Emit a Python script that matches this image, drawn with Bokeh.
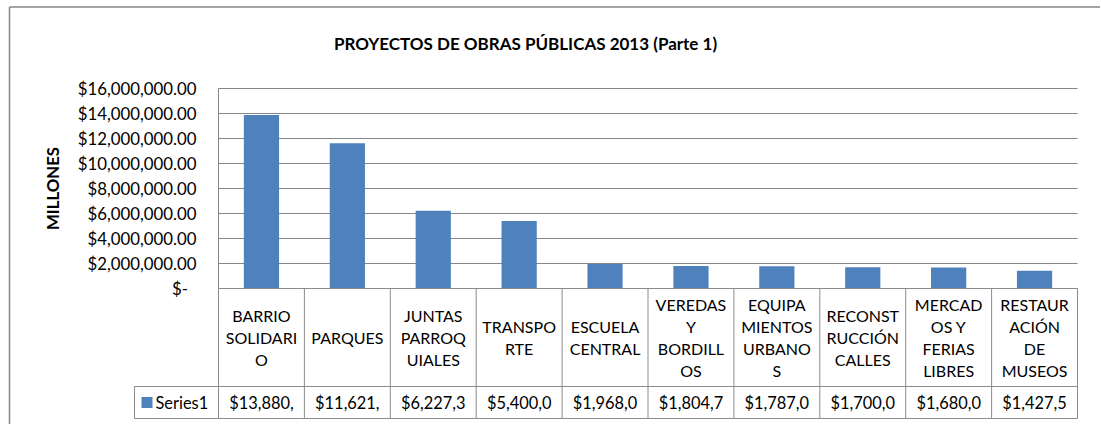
from bokeh.plotting import figure
from bokeh.models import Range1d, FixedTicker, NumeralTickFormatter, Label, LinearAxis, ColumnDataSource
from bokeh.core.properties import value
from bokeh.embed import file_html
from bokeh.resources import INLINE

# ---- data ----
categories = ["BARRIO\nSOLIDARI\nO", "PARQUES", "JUNTAS\nPARROQ\nUIALES", "TRANSPO\nRTE",
              "ESCUELA\nCENTRAL", "VEREDAS\nY\nBORDILL\nOS", "EQUIPA\nMIENTOS\nURBANO\nS",
              "RECONST\nRUCCIÓN\nCALLES", "MERCAD\nOS Y\nFERIAS\nLIBRES", "RESTAUR\nACIÓN\nDE\nMUSEOS"]
values = [13880000, 11621000, 6227300, 5400000, 1968000, 1804700, 1787000, 1700000, 1680000, 1427500]
y_ticks = [0, 2000000, 4000000, 6000000, 8000000, 10000000, 12000000, 14000000, 16000000]
series_name = "Series1"
title_text = "PROYECTOS DE OBRAS PÚBLICAS 2013 (Parte 1)"
y_label = "MILLONES"

FONT = "Lato"
GRID = "#868686"
TBL = "#8c8c8c"
BLUE = "#4F81BD"

n = len(categories)
xs = [i + 0.5 for i in range(n)]
# Excel clips the cell text to the column width
value_text = [("${:,.2f}".format(v))[:8] for v in values]

# ---- layout (pixels inside the canvas) ----
W, H = 1100, 424
PLOT_L = 218          # left edge of the plot area
CW = 85.9             # width of one category column
Y0 = 288              # pixel row of value 0
Y16 = 88              # pixel row of the top tick
ymax = y_ticks[-1]
upp = ymax / (Y0 - Y16)          # value units per pixel


def ty(py):
    """table coordinate (pixels from the bottom) of a pixel row"""
    return H - py


def tx(px):
    """x data coordinate of a pixel column"""
    return (px - PLOT_L) / CW


p = figure(width=W, height=H, output_backend="svg", toolbar_location=None,
           x_range=Range1d(tx(0), tx(W)),
           y_range=Range1d(-(H - Y0) * upp, Y0 * upp),
           x_axis_location=None, y_axis_location=None, title_location=None, min_border=0)
p.extra_y_ranges = {"tbl": Range1d(0, H)}
p.outline_line_color = None
p.grid.visible = False

# gridlines over the plot area
p.segment(x0=[0] * len(y_ticks), x1=[n] * len(y_ticks), y0=y_ticks, y1=y_ticks,
          line_color=GRID, line_width=1)

yax = LinearAxis(fixed_location=0, bounds=(0, ymax))
yax.ticker = FixedTicker(ticks=y_ticks)
yax.formatter = NumeralTickFormatter(format="$0,0.00")
yax.major_label_overrides = {0: "$-\u00a0\u00a0"}
yax.major_tick_out = 0
yax.major_tick_in = 0
yax.minor_tick_out = 0
yax.minor_tick_in = 0
yax.axis_line_color = GRID
yax.major_label_standoff = 22
yax.major_label_text_font = FONT
yax.major_label_text_font_size = "16.8px"
yax.major_label_text_color = "#000000"
yax.axis_label = y_label
yax.axis_label_text_font = FONT
yax.axis_label_text_font_style = "bold"
yax.axis_label_text_font_size = "16.8px"
yax.axis_label_text_color = "#000000"
yax.axis_label_standoff = 12
p.add_layout(yax, "left")

bars = p.vbar(x=xs, top=values, bottom=0, width=0.41, fill_color=BLUE, line_color=None)

# ---- data table ----
hdr_top = ty(Y0)
hdr_bot = ty(386)
row_bot = ty(418)
leg_l = tx(134)
p.segment(x0=[0, leg_l, leg_l], x1=[n, n, n], y0=[hdr_top, hdr_bot, row_bot],
          y1=[hdr_top, hdr_bot, row_bot], y_range_name="tbl", line_color=TBL, line_width=1)
p.segment(x0=list(range(0, n + 1)) + [leg_l], x1=list(range(0, n + 1)) + [leg_l],
          y0=[row_bot] * (n + 1) + [row_bot], y1=[hdr_top] * (n + 1) + [hdr_bot],
          y_range_name="tbl", line_color=TBL, line_width=1)
src = ColumnDataSource(dict(x=xs, cat=categories, val=value_text,
                            yc=[(hdr_top + hdr_bot) / 2] * n, yv=[(hdr_bot + row_bot) / 2] * n))
p.text(x="x", y="yc", text="cat", source=src, y_range_name="tbl", text_align="center",
       text_baseline="middle", text_font=value(FONT), text_font_size="16px",
       text_line_height=1.15, text_color="#000000")
p.text(x="x", y="yv", text="val", source=src, y_range_name="tbl", text_align="center",
       text_baseline="middle", text_font=value(FONT), text_font_size="16.4px", text_color="#000000")

# legend key inside the table's first column
key_y = (hdr_bot + row_bot) / 2
p.scatter(x=[tx(146.5)], y=[key_y], marker="square", size=11, fill_color=BLUE,
          line_color=None, y_range_name="tbl")
p.text(x=[tx(155)], y=[key_y], text=[series_name], y_range_name="tbl", text_align="left",
       text_baseline="middle", text_font=value(FONT), text_font_size="16.4px", text_color="#000000")

# ---- title and chart border ----
p.add_layout(Label(x=tx(525), y=ty(43), y_range_name="tbl", text=title_text,
                   text_align="center", text_baseline="middle", text_font=FONT,
                   text_font_style="bold", text_font_size="17px", text_color="#000000"))
p.segment(x0=[tx(9), tx(9)], x1=[tx(9), tx(W)], y0=[0, ty(6.5)], y1=[ty(6.5), ty(6.5)],
          y_range_name="tbl", line_color=GRID, line_width=1.5)

open("out.html", "w").write(file_html(p, INLINE))
